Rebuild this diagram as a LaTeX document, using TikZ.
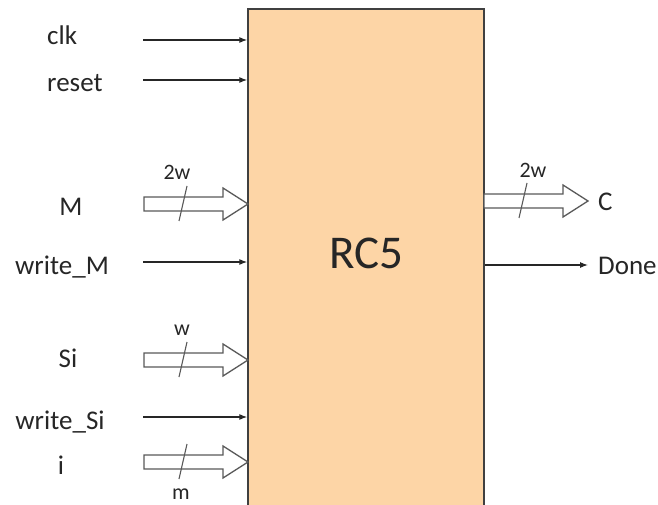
\documentclass[tikz,border=0pt]{standalone}
\usepackage{fontspec}
\setmainfont{Carlito}
\usepackage{tikz}
\usetikzlibrary{positioning, arrows.meta, calc}
\definecolor{peach}{HTML}{FDD5A6}
\definecolor{boxline}{HTML}{404040}
\definecolor{ink}{HTML}{262626}
\definecolor{busline}{HTML}{595959}

\begin{document}
\begin{tikzpicture}[
    x=1pt, y=-1pt,
    lbl/.style={font=\fontsize{27}{32}\selectfont, text=ink, anchor=base, inner sep=0pt},
    wd/.style={font=\fontsize{22}{26}\selectfont, text=ink, inner sep=0pt},
    blk/.style={rectangle, draw=boxline, fill=peach, line width=1.5pt, minimum width=236pt, minimum height=520pt, inner sep=0pt},
    sig/.style={-{Latex[length=8pt, width=6pt]}, line width=1.1pt, draw=ink},
    buspoly/.style={draw=busline, fill=white, line width=1.3pt, line join=miter},
    slash/.style={draw=busline, line width=1.1pt},
    bus/.pic={
        \draw[buspoly] (0,-7) -- (79,-7) -- (79,-16) -- (104,0) -- (79,16) -- (79,7) -- (0,7) -- cycle;
        \draw[slash] (35,17) -- (43,-18);
    }
]
\useasboundingbox (0,0) rectangle (658,505);

\node[blk] (rc5) at (366,269) {};
\node[font=\fontsize{47}{56}\selectfont, text=ink] (rc5name) at (366,253) {RC5};

% inputs
\node[lbl, anchor=base west] (clk) at (47,45) {clk};
\node[lbl, anchor=base west] (reset) at (47,92) {reset};
\node[lbl] (m) at (71,215) {M};
\node[lbl] (writem) at (62,274) {write\_M};
\node[lbl] (si) at (68,367) {Si};
\node[lbl] (writesi) at (60,429) {write\_Si};
\node[lbl] (ii) at (61,474) {i};

\coordinate (clkin) at (143,40);
\coordinate (resetin) at (143,80);
\coordinate (writemin) at (143,262);
\coordinate (writesiin) at (143,417);
\coordinate (mbus) at (144,204);
\coordinate (sibus) at (144,360);
\coordinate (ibus) at (144,462);

\draw[sig] (clkin) -- (clkin -| rc5.west);
\draw[sig] (resetin) -- (resetin -| rc5.west);
\draw[sig] (writemin) -- (writemin -| rc5.west);
\draw[sig] (writesiin) -- (writesiin -| rc5.west);
\pic at (mbus) {bus};
\pic at (sibus) {bus};
\pic at (ibus) {bus};

\node[wd] (mw) at (177,172) {2w};
\node[wd] (siw) at (182,330) {w};
\node[wd] (iw) at (181,494) {m};

% outputs
\coordinate (cbus) at (484,201);
\coordinate (doneout) at (588,265);
\pic at (cbus) {bus};
\draw[sig] (doneout -| rc5.east) -- (doneout);
\node[wd] (cw) at (533,170) {2w};
\node[lbl, anchor=base west] (c) at (598,210) {C};
\node[lbl, anchor=base west] (done) at (598,274) {Done};
\end{tikzpicture}
\end{document}
